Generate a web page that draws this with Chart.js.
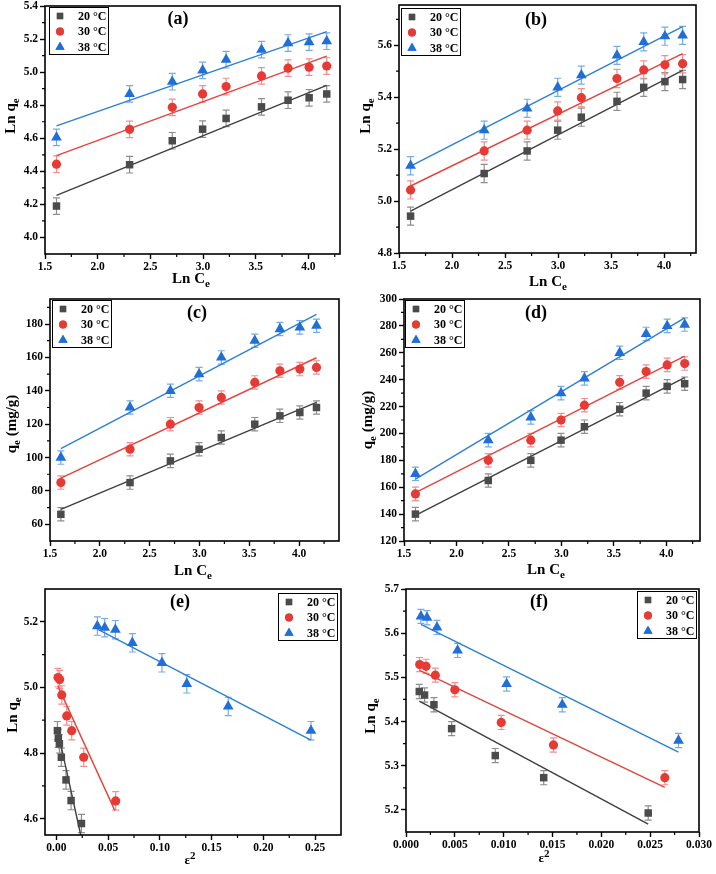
<!DOCTYPE html>
<html><head><meta charset="utf-8">
<script src="https://cdn.jsdelivr.net/npm/chart.js@4.4.1/dist/chart.umd.min.js"></script>
<style>
html,body{margin:0;padding:0;background:#fff;}
body{width:716px;height:874px;overflow:hidden;position:relative;}
canvas{position:absolute;}
</style></head><body>
<script>
// ---------------- DATA ----------------
const seriesNames = ['20 °C', '30 °C', '38 °C'];
const lnCe = [1.609, 2.303, 2.708, 2.996, 3.219, 3.555, 3.807, 4.007, 4.174];
const fitLnCe = [1.609, 4.174];
const lnCeTicks = [1.5, 2.0, 2.5, 3.0, 3.5, 4.0];

// (a) Ln qe vs Ln Ce
const a20 = [4.190, 4.440, 4.585, 4.655, 4.720, 4.790, 4.830, 4.845, 4.868];
const a30 = [4.443, 4.654, 4.787, 4.868, 4.913, 4.977, 5.024, 5.030, 5.037];
const a38 = [4.605, 4.868, 4.942, 5.011, 5.075, 5.136, 5.176, 5.182, 5.187];
const aFit20 = [4.255, 4.920];
const aFit30 = [4.495, 5.097];
const aFit38 = [4.675, 5.245];
const aErr = 0.05;
const aYTicks = [4.0, 4.2, 4.4, 4.6, 4.8, 5.0, 5.2, 5.4];

// (b) Ln qe vs Ln Ce
const b20 = [4.942, 5.106, 5.193, 5.273, 5.323, 5.384, 5.438, 5.460, 5.468];
const b30 = [5.043, 5.193, 5.273, 5.347, 5.398, 5.472, 5.505, 5.525, 5.529];
const b38 = [5.136, 5.273, 5.357, 5.438, 5.485, 5.561, 5.613, 5.635, 5.638];
const bFit20 = [4.961, 5.503];
const bFit30 = [5.058, 5.568];
const bFit38 = [5.135, 5.672];
const bErr = 0.035;
const bYTicks = [4.8, 5.0, 5.2, 5.4, 5.6];

// (c) qe vs Ln Ce
const c20 = [66, 85, 98, 105, 112, 120, 125, 127, 130];
const c30 = [85, 105, 120, 130, 136, 145, 152, 153, 154];
const c38 = [100, 130, 140, 150, 160, 170, 177, 178, 179];
const cFit20 = [69, 133];
const cFit30 = [87.7, 159.8];
const cFit38 = [105.4, 185.8];
const cErr = 4;
const cYTicks = [60, 80, 100, 120, 140, 160, 180];

// (d) qe vs Ln Ce
const d20 = [140, 165, 180, 195, 205, 218, 230, 235, 237];
const d30 = [155, 180, 195, 210, 221, 238, 246, 251, 252];
const d38 = [170, 195, 212, 230, 241, 260, 274, 280, 281];
const dFit20 = [139, 241.5];
const dFit30 = [156, 257.5];
const dFit38 = [166, 286];
const dErr = 5;
const dYTicks = [120, 140, 160, 180, 200, 220, 240, 260, 280, 300];

// (e) Ln qe vs eps^2
const e20x = [0.0010, 0.0019, 0.0029, 0.0048, 0.0093, 0.0142, 0.0242];
const e20 = [4.868, 4.845, 4.828, 4.787, 4.718, 4.655, 4.585];
const e30x = [0.0016, 0.0032, 0.0052, 0.0100, 0.0148, 0.0264, 0.0573];
const e30 = [5.030, 5.024, 4.977, 4.913, 4.868, 4.787, 4.654];
const e38x = [0.0396, 0.0467, 0.0570, 0.0734, 0.1020, 0.1260, 0.1660, 0.2460];
const e38 = [5.187, 5.182, 5.176, 5.136, 5.075, 5.011, 4.942, 4.868];
const eFit20x = [0.0008, 0.0235], eFit20 = [4.875, 4.550];
const eFit30x = [0.0016, 0.0564], eFit30 = [5.003, 4.625];
const eFit38x = [0.0396, 0.2460], eFit38 = [5.178, 4.839];
const eErr = 0.028;
const eXTicks = [0.00, 0.05, 0.10, 0.15, 0.20, 0.25];
const eYTicks = [4.6, 4.8, 5.0, 5.2];

// (f) Ln qe vs eps^2
const f20x = [0.00136, 0.00190, 0.00286, 0.00467, 0.00914, 0.01410, 0.02480];
const f20 = [5.468, 5.460, 5.438, 5.384, 5.323, 5.273, 5.193];
const f30x = [0.00140, 0.00205, 0.00300, 0.00500, 0.00975, 0.01510, 0.02650];
const f30 = [5.529, 5.525, 5.505, 5.472, 5.398, 5.347, 5.273];
const f38x = [0.00153, 0.00215, 0.00317, 0.00528, 0.01030, 0.01600, 0.02790];
const f38 = [5.638, 5.635, 5.613, 5.561, 5.485, 5.438, 5.357];
const fFit20x = [0.00136, 0.02480], fFit20 = [5.446, 5.168];
const fFit30x = [0.00140, 0.02650], fFit30 = [5.516, 5.251];
const fFit38x = [0.00153, 0.02790], fFit38 = [5.620, 5.331];
const fErr = 0.016;
const fXTicks = [0.000, 0.005, 0.010, 0.015, 0.020, 0.025, 0.030];
const fYTicks = [5.2, 5.3, 5.4, 5.5, 5.6, 5.7];

// ---------------- STYLE ----------------
const FONT = '"Liberation Serif", "Times New Roman", serif';
const PT_COL = ['#4b4b4b', '#e63b35', '#1f6fd6'];
const LINE_COL = ['#3f3f3f', '#e2443c', '#2b80d2'];
const ERR_COL = ['#8e8e8e', '#f09090', '#78abe3'];
const PT_STYLE = ['rect', 'circle', 'triangle'];
const PT_RAD = [5.3, 4.6, 6.2];

const T_LnQ = [{t:'Ln q'}, {t:'e', sub:true}];
const T_LnC = [{t:'Ln C'}, {t:'e', sub:true}];
const T_Q = [{t:'q'}, {t:'e', sub:true}, {t:' (mg/g)'}];
const T_EPS = [{t:'ε', small:true}, {t:'2', sup:true}];

const panels = [
  {label:'(a)', cl:0, plot:[45,6,340,254], xr:[1.5,4.3], yr:[3.9,5.4], xt:lnCeTicks, yt:aYTicks, xd:1, yd:1,
   xs:[lnCe,lnCe,lnCe], ys:[a20,a30,a38], fx:[fitLnCe,fitLnCe,fitLnCe], fy:[aFit20,aFit30,aFit38], err:aErr,
   xTitle:T_LnC, yTitle:T_LnQ, labPos:[178,19], legPos:[49,7], yTitlePos:[11,116], xTitlePos:[191,279]},
  {label:'(b)', cl:356, plot:[399,5,696,253], xr:[1.5,4.3], yr:[4.8,5.755], xt:lnCeTicks, yt:bYTicks, xd:1, yd:1,
   xs:[lnCe,lnCe,lnCe], ys:[b20,b30,b38], fx:[fitLnCe,fitLnCe,fitLnCe], fy:[bFit20,bFit30,bFit38], err:bErr,
   xTitle:T_LnC, yTitle:T_LnQ, labPos:[536,20], legPos:[401,8], yTitlePos:[366,116], xTitlePos:[548,282]},
  {label:'(c)', cl:0, plot:[50,299,339,541], xr:[1.5,4.4], yr:[50,195], xt:lnCeTicks, yt:cYTicks, xd:1, yd:0,
   xs:[lnCe,lnCe,lnCe], ys:[c20,c30,c38], fx:[fitLnCe,fitLnCe,fitLnCe], fy:[cFit20,cFit30,cFit38], err:cErr,
   xTitle:T_LnC, yTitle:T_Q, labPos:[197,313], legPos:[52,300], yTitlePos:[12,424], xTitlePos:[193,571]},
  {label:'(d)', cl:356, plot:[404,299,700,541], xr:[1.5,4.32], yr:[120,300], xt:lnCeTicks, yt:dYTicks, xd:1, yd:0,
   xs:[lnCe,lnCe,lnCe], ys:[d20,d30,d38], fx:[fitLnCe,fitLnCe,fitLnCe], fy:[dFit20,dFit30,dFit38], err:dErr,
   xTitle:T_LnC, yTitle:T_Q, labPos:[536,313], legPos:[405,300], yTitlePos:[368,420], xTitlePos:[546,570]},
  {label:'(e)', cl:0, plot:[45,589,341,835], xr:[-0.011,0.275], yr:[4.55,5.3], xt:eXTicks, yt:eYTicks, xd:2, yd:1,
   xs:[e20x,e30x,e38x], ys:[e20,e30,e38], fx:[eFit20x,eFit30x,eFit38x], fy:[eFit20,eFit30,eFit38], err:eErr,
   xTitle:T_EPS, yTitle:T_LnQ, labPos:[180,602], legPos:[278,593], yTitlePos:[13,715], xTitlePos:[190,861]},
  {label:'(f)', cl:356, plot:[406,589,699,832], xr:[0,0.030], yr:[5.15,5.7], xt:fXTicks, yt:fYTicks, xd:3, yd:1,
   xs:[f20x,f30x,f38x], ys:[f20,f30,f38], fx:[fFit20x,fFit30x,fFit38x], fy:[fFit20,fFit30,fFit38], err:fErr,
   xTitle:T_EPS, yTitle:T_LnQ, labPos:[539,602], legPos:[637,591], yTitlePos:[371,716], xTitlePos:[544,859]}
];

const PAD_T = 10, PAD_R = 16, X_H = 40;

function drawRich(ctx, parts, cx, cy, size, rot) {
  ctx.save();
  ctx.translate(cx, cy);
  if (rot) ctx.rotate(-Math.PI / 2);
  const fontFor = p => 'bold ' + (p.sub || p.sup ? Math.round(size * 0.72) : (p.small ? Math.round(size * 0.85) : size)) + 'px ' + FONT;
  let w = 0;
  const widths = parts.map(p => { ctx.font = fontFor(p); const m = ctx.measureText(p.t).width; w += m; return m; });
  let x = -w / 2;
  ctx.textBaseline = 'middle';
  ctx.textAlign = 'left';
  ctx.fillStyle = '#000';
  parts.forEach((p, i) => {
    ctx.font = fontFor(p);
    const dy = p.sub ? size * 0.32 : (p.sup ? -size * 0.32 : 0);
    ctx.fillText(p.t, x, dy);
    x += widths[i];
  });
  ctx.restore();
}

function minorOf(ticks, lo, hi) {
  const step = ticks[1] - ticks[0];
  const out = [];
  const all = [ticks[0] - step / 2].concat(ticks.map(v => v + step / 2));
  all.forEach(v => { if (v > lo + 1e-9 && v < hi - 1e-9) out.push(v); });
  return out;
}

panels.forEach(P => {
  const [pl, pt, pr, pb] = P.plot;
  const cl = P.cl, ctop = pt - PAD_T;
  const yW = pl - cl;
  const W = (pr - cl) + PAD_R;
  const H = PAD_T + (pb - pt) + X_H;
  const cv = document.createElement('canvas');
  cv.width = W; cv.height = H;
  cv.style.left = cl + 'px'; cv.style.top = ctop + 'px';
  cv.style.width = W + 'px'; cv.style.height = H + 'px';
  document.body.appendChild(cv);

  const datasets = [];
  for (let i = 0; i < 3; i++) {
    datasets.push({
      label: seriesNames[i],
      data: P.xs[i].map((x, j) => ({x: x, y: P.ys[i][j]})),
      pointStyle: PT_STYLE[i], pointRadius: PT_RAD[i],
      backgroundColor: PT_COL[i], borderColor: PT_COL[i], borderWidth: 0,
      showLine: false, order: 1
    });
  }
  for (let i = 0; i < 3; i++) {
    datasets.push({
      label: 'fit ' + seriesNames[i],
      data: P.fx[i].map((x, j) => ({x: x, y: P.fy[i][j]})),
      showLine: true, pointRadius: 0, borderColor: LINE_COL[i], borderWidth: 1.4,
      backgroundColor: LINE_COL[i], fill: false, order: 2
    });
  }

  const panelPlugin = {
    id: 'panelDeco',
    beforeDatasetsDraw(chart) {
      const ctx = chart.ctx, xs = chart.scales.x, ys = chart.scales.y, ca = chart.chartArea;
      ctx.save();
      ctx.beginPath(); ctx.rect(ca.left, ca.top, ca.right - ca.left, ca.bottom - ca.top); ctx.clip();
      for (let i = 0; i < 3; i++) {
        ctx.strokeStyle = ERR_COL[i]; ctx.lineWidth = 1.2;
        P.xs[i].forEach((xv, j) => {
          const px = xs.getPixelForValue(xv);
          const y1 = ys.getPixelForValue(P.ys[i][j] - P.err);
          const y2 = ys.getPixelForValue(P.ys[i][j] + P.err);
          ctx.beginPath();
          ctx.moveTo(px, y1); ctx.lineTo(px, y2);
          ctx.moveTo(px - 3.5, y1); ctx.lineTo(px + 3.5, y1);
          ctx.moveTo(px - 3.5, y2); ctx.lineTo(px + 3.5, y2);
          ctx.stroke();
        });
      }
      ctx.restore();
    },
    afterDraw(chart) {
      const ctx = chart.ctx, xs = chart.scales.x, ys = chart.scales.y, ca = chart.chartArea;
      ctx.save();
      // frame
      ctx.strokeStyle = '#000'; ctx.lineWidth = 1.6;
      ctx.strokeRect(ca.left, ca.top, ca.right - ca.left, ca.bottom - ca.top);
      // minor ticks
      ctx.lineWidth = 1.2;
      ctx.beginPath();
      minorOf(P.xt, P.xr[0], P.xr[1]).forEach(v => {
        const px = xs.getPixelForValue(v);
        ctx.moveTo(px, ca.bottom); ctx.lineTo(px, ca.bottom + 3);
      });
      minorOf(P.yt, P.yr[0], P.yr[1]).forEach(v => {
        const py = ys.getPixelForValue(v);
        ctx.moveTo(ca.left, py); ctx.lineTo(ca.left - 3, py);
      });
      ctx.stroke();
      // titles
      drawRich(ctx, P.xTitle, P.xTitlePos[0] - cl, P.xTitlePos[1] - ctop, 15, false);
      drawRich(ctx, P.yTitle, P.yTitlePos[0] - cl, P.yTitlePos[1] - ctop, 15, true);
      // panel label
      ctx.font = 'bold 18px ' + FONT; ctx.fillStyle = '#000';
      ctx.textAlign = 'center'; ctx.textBaseline = 'middle';
      ctx.fillText(P.label, P.labPos[0] - cl, P.labPos[1] - ctop);
      // legend
      const lx = P.legPos[0] - cl, ly = P.legPos[1] - ctop;
      ctx.fillStyle = '#fff';
      ctx.fillRect(lx, ly, 59, 47);
      ctx.strokeStyle = '#000'; ctx.lineWidth = 1;
      ctx.strokeRect(lx + 0.5, ly + 0.5, 59, 47);
      for (let i = 0; i < 3; i++) {
        const ry = ly + 9 + i * 15.5;
        ctx.fillStyle = PT_COL[i]; ctx.strokeStyle = PT_COL[i];
        Chart.helpers.drawPoint(ctx, {pointStyle: PT_STYLE[i], radius: PT_RAD[i] * 0.85, borderWidth: 0, rotation: 0}, lx + 11, ry);
        ctx.fill();
        ctx.fillStyle = '#000';
        ctx.font = 'bold 12px ' + FONT;
        ctx.textAlign = 'left'; ctx.textBaseline = 'middle';
        ctx.fillText(seriesNames[i], lx + 29, ry + 0.5);
      }
      ctx.restore();
    }
  };

  const tickFont = {family: FONT, size: 11.5, weight: 'bold'};
  new Chart(cv, {
    type: 'scatter',
    data: {datasets: datasets},
    options: {
      responsive: false, animation: false, events: [],
      devicePixelRatio: 1,
      layout: {padding: {top: PAD_T, right: PAD_R, left: 0, bottom: 0}},
      plugins: {legend: {display: false}, tooltip: {enabled: false}, title: {display: false}},
      scales: {
        x: {
          type: 'linear', position: 'bottom', min: P.xr[0], max: P.xr[1],
          afterBuildTicks: s => { s.ticks = P.xt.map(v => ({value: v})); },
          afterFit: s => { s.height = X_H; },
          grid: {display: true, drawOnChartArea: false, drawTicks: true, tickLength: 5, tickWidth: 1.4, tickColor: '#000', color: '#000'},
          border: {display: false},
          ticks: {font: tickFont, color: '#000', padding: 1, maxRotation: 0, autoSkip: false,
                  callback: v => Number(v).toFixed(P.xd)}
        },
        y: {
          type: 'linear', position: 'left', min: P.yr[0], max: P.yr[1],
          afterBuildTicks: s => { s.ticks = P.yt.map(v => ({value: v})); },
          afterFit: s => { s.width = yW; },
          grid: {display: true, drawOnChartArea: false, drawTicks: true, tickLength: 5, tickWidth: 1.4, tickColor: '#000', color: '#000'},
          border: {display: false},
          ticks: {font: tickFont, color: '#000', padding: 2, autoSkip: false,
                  callback: v => Number(v).toFixed(P.yd)}
        }
      }
    },
    plugins: [panelPlugin]
  });
});
</script>
</body></html>
